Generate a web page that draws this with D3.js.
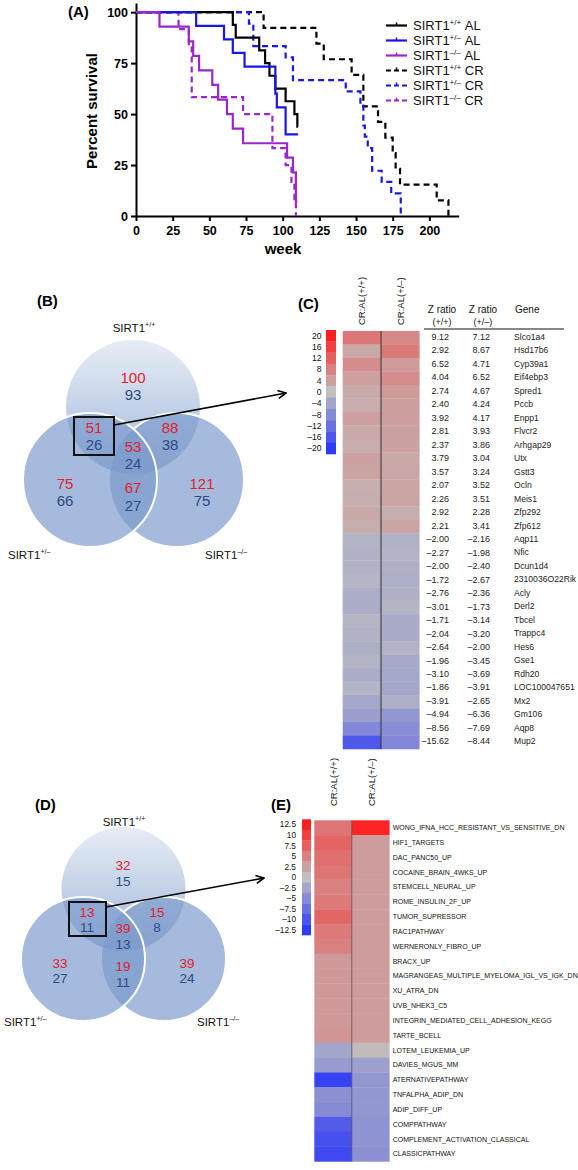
<!DOCTYPE html>
<html><head><meta charset="utf-8">
<script src="https://cdn.jsdelivr.net/npm/d3@7"></script>
<style>
body{margin:0;background:#fff}
text{font-family:"Liberation Sans",Arial,Helvetica,sans-serif}
</style>
</head><body>
<svg id="chart" width="578" height="1170"></svg>
<script>
// ---------------- DATA ----------------
const weekTicks = [0, 25, 50, 75, 100, 125, 150, 175, 200];
const survivalTicks = [0, 25, 50, 75, 100];
// step survival curves [week, percent]
const wtAL   = [[0,100],[66,93.8],[68,87.5],[84,81.3],[88,75],[91,68.8],[95,62.5],[102,56.3],[108,50],[110,43.8],[110.5,43.8]];
const hetAL  = [[0,100],[41,93.3],[60,86.7],[66,80],[74,73.3],[95,60],[96,53.3],[102,40],[110.5,40]];
const koAL   = [[0,100],[16,92.9],[36,85.7],[39,78.6],[43,71.4],[52,64.3],[56,57.1],[62,50],[66,42.9],[73,35.7],[103,28.6],[107,21.4],[109,7.1],[110,7.1]];
const wtCR   = [[0,100],[87,92.3],[123,84.6],[128,76.9],[147,69.2],[155,53.8],[165,46.2],[170,38.5],[175,30.8],[177,23.1],[180,15.4],[205,7.7],[213,0]];
const hetCR  = [[0,100],[77,94.4],[80,83.3],[102,77.8],[107,66.7],[143,61.1],[153,55.6],[155,44.4],[156,38.9],[158,33.3],[161,22.2],[167.5,16.7],[174,11.1],[180.5,0]];
const koCR   = [[0,100],[29,91.7],[36,83.3],[38,58.3],[73,50],[93,33.3],[102,25],[106,16.7],[108,8.3],[109,0]];
const legendSup    = ["+/+", "+/\u2013", "\u2013/\u2013", "+/+", "+/\u2013", "\u2013/\u2013"];
const legendSuffix = ["AL", "AL", "AL", "CR", "CR", "CR"];

// Venn counts: regions [top, topLeft, topRight, center, left, leftRight, right]
const vennBred  = [100, 51, 88, 53, 75, 67, 121];
const vennBblue = [93, 26, 38, 24, 66, 27, 75];
const vennDred  = [32, 13, 15, 39, 33, 19, 39];
const vennDblue = [15, 11, 8, 13, 27, 11, 24];

// Panel C genes
const genes = ["Slco1a4","Hsd17b6","Cyp39a1","Eif4ebp3","Spred1","Pccb","Enpp1","Flvcr2","Arhgap29","Utx","Gstt3","Ocln","Meis1","Zfp292","Zfp612","Aqp11","Nfic","Dcun1d4","2310036O22Rik","Acly","Derl2","Tbcel","Trappc4","Hes6","Gse1","Rdh20","LOC100047651","Mx2","Gm106","Aqp8","Mup2"];
const zWT  = [9.12,2.92,6.52,4.04,2.74,2.40,3.92,2.81,2.37,3.79,3.57,2.07,2.26,2.92,2.21,-2.00,-2.27,-2.00,-1.72,-2.76,-3.01,-1.71,-2.04,-2.64,-1.96,-3.10,-1.86,-3.91,-4.94,-8.56,-15.62];
const zHet = [7.12,8.67,4.71,6.52,4.67,4.24,4.17,3.93,3.86,3.04,3.24,3.52,3.51,2.28,3.41,-2.16,-1.98,-2.40,-2.67,-2.36,-1.73,-3.14,-3.20,-2.00,-3.45,-3.69,-3.91,-2.65,-6.36,-7.69,-8.44];
const colorbarC = [20,16,12,8,4,0,-4,-8,-12,-16,-20];
const heatCols = ["CR:AL(+/+)", "CR:AL(+/\u2013)"];

// Panel E pathways
const pathways = ["WONG_IFNA_HCC_RESISTANT_VS_SENSITIVE_DN","HIF1_TARGETS","DAC_PANC50_UP","COCAINE_BRAIN_4WKS_UP","STEMCELL_NEURAL_UP","ROME_INSULIN_2F_UP","TUMOR_SUPRESSOR","RAC1PATHWAY","WERNERONLY_FIBRO_UP","BRACX_UP","MAGRANGEAS_MULTIPLE_MYELOMA_IGL_VS_IGK_DN","XU_ATRA_DN","UVB_NHEK3_C5","INTEGRIN_MEDIATED_CELL_ADHESION_KEGG","TARTE_BCELL","LOTEM_LEUKEMIA_UP","DAVIES_MGUS_MM","ATERNATIVEPATHWAY","TNFALPHA_ADIP_DN","ADIP_DIFF_UP","COMPPATHWAY","COMPLEMENT_ACTIVATION_CLASSICAL","CLASSICPATHWAY"];
const pathWT  = [5.8,7.2,6.3,5.8,5.0,5.5,7.0,5.5,5.0,3.0,3.0,3.0,3.0,3.0,3.3,-2.5,-3.5,-11.8,-4.5,-5.0,-9.5,-10.5,-11.2];
const pathHet = [12.0,2.8,2.8,2.8,2.8,2.8,2.8,2.8,2.8,2.8,2.8,2.8,2.8,2.8,2.8,0.4,-3.0,-4.0,-4.0,-4.0,-4.3,-4.3,-4.5];
const colorbarE = [12.5,10,7.5,5,2.5,0,-2.5,-5,-7.5,-10,-12.5];

// ---------------- DRAW ----------------
const svg = d3.select("#chart");
const RED = "#e3202b", NAVY = "#2c4c84";

function sirtText(g, x, y, sup, suffix, fs, anchor, weight) {
  const t = g.append("text").attr("x", x).attr("y", y).attr("font-size", fs)
    .attr("text-anchor", anchor || "start").attr("fill", "#111");
  if (weight) t.attr("font-weight", weight);
  t.append("tspan").text("SIRT1");
  t.append("tspan").attr("font-size", fs * 0.62).attr("dy", -fs * 0.4).text(sup);
  if (suffix) t.append("tspan").attr("dy", fs * 0.4).text("\u00a0" + suffix);
  return t;
}

// ===== Panel A =====
const x = d3.scaleLinear().domain([0, 220]).range([136, 458.7]);
const y = d3.scaleLinear().domain([0, 104.5]).range([216, 3]);
const gA = svg.append("g");
gA.append("text").attr("x", 68).attr("y", 17).attr("font-size", 15).attr("font-weight", "bold").text("(A)");

const xAx = gA.append("g").attr("transform", "translate(0,216)")
  .call(d3.axisBottom(x).tickValues(weekTicks).tickSize(5).tickPadding(5).tickSizeOuter(0));
const yAx = gA.append("g").attr("transform", "translate(136,0)")
  .call(d3.axisLeft(y).tickValues(survivalTicks).tickSize(5).tickPadding(3).tickSizeOuter(0));
[xAx, yAx].forEach(a => {
  a.select(".domain").attr("stroke", "#000").attr("stroke-width", 2);
  a.selectAll(".tick line").attr("stroke", "#000").attr("stroke-width", 2);
  a.selectAll(".tick text").attr("font-size", 12.5).attr("font-weight", "bold").attr("fill", "#000")
    .attr("font-family", "'Liberation Sans',Arial,sans-serif");
});
gA.append("text").attr("x", 283).attr("y", 254).attr("text-anchor", "middle")
  .attr("font-size", 15).attr("font-weight", "bold").text("week");
gA.append("text").attr("transform", "translate(97,111) rotate(-90)").attr("text-anchor", "middle")
  .attr("font-size", 15).attr("font-weight", "bold").text("Percent survival");

const survSeries = [
  {d: wtCR, c: "#000", dash: "6,4"},
  {d: hetCR, c: "#1717e6", dash: "6,4"},
  {d: koCR, c: "#9c25d0", dash: "6,4"},
  {d: wtAL, c: "#000", dash: null},
  {d: hetAL, c: "#1717e6", dash: null},
  {d: koAL, c: "#9c25d0", dash: null}
];
const line = d3.line().x(d => x(d[0])).y(d => y(d[1])).curve(d3.curveStepAfter);
survSeries.forEach(s => {
  gA.append("path").attr("d", line(s.d)).attr("fill", "none").attr("stroke", s.c)
    .attr("stroke-width", 2.2).attr("stroke-dasharray", s.dash);
});

// legend
const legColors = ["#000", "#1717e6", "#9c25d0", "#000", "#1717e6", "#9c25d0"];
legendSup.forEach((sup, i) => {
  const ly = 25.5 + i * 15;
  gA.append("line").attr("x1", 386).attr("x2", 407).attr("y1", ly).attr("y2", ly)
    .attr("stroke", legColors[i]).attr("stroke-width", 2.2).attr("stroke-dasharray", i > 2 ? "5,3" : null);
  gA.append("line").attr("x1", 396.5).attr("x2", 396.5).attr("y1", ly - 3).attr("y2", ly)
    .attr("stroke", legColors[i]).attr("stroke-width", 1.5);
  sirtText(gA, 413, ly + 4.6, sup, legendSuffix[i], 13, "start");
});

// ===== Venn diagrams =====
const defs = svg.append("defs");
defs.append("marker").attr("id", "arr").attr("viewBox", "0 0 10 10").attr("refX", 9).attr("refY", 5)
  .attr("markerWidth", 10).attr("markerHeight", 10).attr("markerUnits", "userSpaceOnUse").attr("orient", "auto")
  .append("path").attr("d", "M1,1 L9,5 L1,9").attr("fill", "none").attr("stroke", "#000").attr("stroke-width", 1.6);

function venn(id, c, red, blue, pos, fs, box, arrow, labels) {
  const g = svg.append("g");
  const grad = defs.append("linearGradient").attr("id", "grad" + id).attr("x1", 0).attr("y1", 0).attr("x2", 0).attr("y2", 1);
  grad.append("stop").attr("offset", "0").attr("stop-color", "#7b9acb").attr("stop-opacity", 0.18);
  grad.append("stop").attr("offset", "1").attr("stop-color", "#7b9acb").attr("stop-opacity", 0.72);
  const mask = defs.append("mask").attr("id", "mask" + id);
  mask.append("rect").attr("x", 0).attr("y", 0).attr("width", 578).attr("height", 1170).attr("fill", "#fff");
  mask.append("circle").attr("cx", c.left[0]).attr("cy", c.left[1]).attr("r", c.r).attr("fill", "#000");

  g.append("circle").attr("cx", c.top[0]).attr("cy", c.top[1]).attr("r", c.r).attr("fill", "url(#grad" + id + ")");
  g.append("circle").attr("cx", c.right[0]).attr("cy", c.right[1]).attr("r", c.r).attr("fill", "#7b9acb").attr("fill-opacity", 0.68);
  g.append("circle").attr("cx", c.left[0]).attr("cy", c.left[1]).attr("r", c.r).attr("fill", "#7b9acb").attr("fill-opacity", 0.68);
  g.append("circle").attr("cx", c.right[0]).attr("cy", c.right[1]).attr("r", c.r).attr("fill", "none")
    .attr("stroke", "#fff").attr("stroke-width", 2).attr("mask", "url(#mask" + id + ")");
  g.append("circle").attr("cx", c.left[0]).attr("cy", c.left[1]).attr("r", c.r).attr("fill", "none")
    .attr("stroke", "#fff").attr("stroke-width", 2);

  red.forEach((v, i) => {
    g.append("text").attr("x", pos[i][0]).attr("y", pos[i][1]).attr("dy", "0.36em").attr("text-anchor", "middle")
      .attr("font-size", fs).attr("fill", RED).text(v);
    g.append("text").attr("x", pos[i][0]).attr("y", pos[i][2]).attr("dy", "0.36em").attr("text-anchor", "middle")
      .attr("font-size", fs).attr("fill", NAVY).text(blue[i]);
  });
  g.append("rect").attr("x", box[0]).attr("y", box[1]).attr("width", box[2] - box[0]).attr("height", box[3] - box[1])
    .attr("fill", "none").attr("stroke", "#111").attr("stroke-width", 2);
  g.append("line").attr("x1", arrow[0]).attr("y1", arrow[1]).attr("x2", arrow[2]).attr("y2", arrow[3])
    .attr("stroke", "#000").attr("stroke-width", 1.6).attr("marker-end", "url(#arr)");
  sirtText(g, labels.top[0], labels.top[1], "+/+", null, 11.5, "middle");
  sirtText(g, labels.left[0], labels.left[1], "+/\u2013", null, 11.5, "start");
  sirtText(g, labels.right[0], labels.right[1], "\u2013/\u2013", null, 11.5, "start");
  return g;
}

svg.append("text").attr("x", 37).attr("y", 306).attr("font-size", 15).attr("font-weight", "bold").text("(B)");
venn("B", {top: [133, 407], left: [90, 480], right: [177, 480], r: 67}, vennBred, vennBblue,
  [[133, 378, 395], [94, 428, 445], [170, 428, 445], [133, 447, 464], [65, 484, 501], [133, 488, 506], [202, 484, 501]],
  15, [74, 417, 114, 455], [114, 425, 286, 393],
  {top: [134, 332], left: [8, 559], right: [205, 559]});

svg.append("text").attr("x", 35).attr("y", 810).attr("font-size", 15).attr("font-weight", "bold").text("(D)");
venn("D", {top: [123.5, 889], left: [83, 959], right: [164, 959], r: 62}, vennDred, vennDblue,
  [[123, 865, 881], [87, 912, 927], [157, 912, 927], [123, 928, 944], [60, 963, 978], [123, 966, 982], [187, 963, 978]],
  13.5, [69, 902, 106, 936], [106, 907, 264, 878],
  {top: [124, 826], left: [4, 1026], right: [197, 1026]});

// ===== Heatmaps =====
function heatColor(max) {
  return d3.scaleLinear().domain([-max, 0, max]).range(["#2f3cf5", "#c0c0c0", "#ff1f1f"]).clamp(true);
}

// Panel C
const gC = svg.append("g");
gC.append("text").attr("x", 298).attr("y", 309).attr("font-size", 15).attr("font-weight", "bold").text("(C)");
const colC = heatColor(20);
const cbC = d3.scaleBand().domain(colorbarC).range([330, 454]);
gC.selectAll("rect.cb").data(colorbarC).join("rect").attr("x", 326).attr("width", 10)
  .attr("y", d => cbC(d)).attr("height", cbC.bandwidth() + 0.3).attr("fill", d => colC(d));
gC.selectAll("text.cb").data(colorbarC).join("text").attr("x", 321.5).attr("y", d => cbC(d) + cbC.bandwidth() / 2)
  .attr("dy", "0.35em").attr("text-anchor", "end").attr("font-size", 8.6).attr("fill", "#111")
  .text(d => d < 0 ? "\u2013" + Math.abs(d) : d);

const rowC = d3.scaleBand().domain(d3.range(genes.length)).range([331, 749]);
const colXC = d3.scaleBand().domain([0, 1]).range([342.7, 419.3]);
[zWT, zHet].forEach((vals, j) => {
  gC.selectAll(null).data(vals).join("rect").attr("x", colXC(j)).attr("width", colXC.bandwidth() + 0.3)
    .attr("y", (d, i) => rowC(i)).attr("height", rowC.bandwidth() + 0.3).attr("fill", d => colC(d));
  gC.append("text").attr("transform", `translate(${colXC(j) + colXC.bandwidth() / 2 + 3.5},325) rotate(-90)`)
    .attr("font-size", 9.5).attr("fill", "#222").text(heatCols[j]);
});
gC.append("line").attr("x1", colXC(1)).attr("x2", colXC(1)).attr("y1", 331).attr("y2", 749).attr("stroke", "#333").attr("stroke-width", 1);

// table
const fmt = v => (v < 0 ? "\u2013" : "") + Math.abs(v).toFixed(2);
[["Z ratio", "(+/+)", 442], ["Z ratio", "(+/\u2013)", 483]].forEach(h => {
  gC.append("text").attr("x", h[2]).attr("y", 313).attr("text-anchor", "middle").attr("font-size", 10).attr("fill", "#111").text(h[0]);
  gC.append("text").attr("x", h[2]).attr("y", 325).attr("text-anchor", "middle").attr("font-size", 9).attr("fill", "#111").text(h[1]);
});
gC.append("text").attr("x", 515).attr("y", 313).attr("font-size", 10).attr("fill", "#111").text("Gene");
gC.append("line").attr("x1", 424).attr("x2", 564).attr("y1", 329).attr("y2", 329).attr("stroke", "#111").attr("stroke-width", 1);
genes.forEach((g, i) => {
  const cy = rowC(i) + rowC.bandwidth() / 2 - 1;
  gC.append("text").attr("x", 449).attr("y", cy).attr("dy", "0.35em").attr("text-anchor", "end").attr("font-size", 9).attr("fill", "#222").text(fmt(zWT[i]));
  gC.append("text").attr("x", 490).attr("y", cy).attr("dy", "0.35em").attr("text-anchor", "end").attr("font-size", 9).attr("fill", "#222").text(fmt(zHet[i]));
  gC.append("text").attr("x", 514).attr("y", cy).attr("dy", "0.35em").attr("font-size", 8.6).attr("fill", "#222").text(g);
});

// Panel E
const gE = svg.append("g");
gE.append("text").attr("x", 271).attr("y", 810).attr("font-size", 15).attr("font-weight", "bold").text("(E)");
const colE = heatColor(12.5);
const cbE = d3.scaleBand().domain(colorbarE).range([819.3, 935]);
gE.selectAll("rect.cb").data(colorbarE).join("rect").attr("x", 302).attr("width", 9)
  .attr("y", d => cbE(d)).attr("height", cbE.bandwidth() + 0.3).attr("fill", d => colE(d));
gE.selectAll("text.cb").data(colorbarE).join("text").attr("x", 296).attr("y", d => cbE(d) + cbE.bandwidth() / 2)
  .attr("dy", "0.35em").attr("text-anchor", "end").attr("font-size", 8.3).attr("fill", "#111")
  .text(d => d < 0 ? "\u2013" + Math.abs(d) : d);

const rowE = d3.scaleBand().domain(d3.range(pathways.length)).range([820.3, 1161.4]);
const colXE = d3.scaleBand().domain([0, 1]).range([314.3, 389.3]);
[pathWT, pathHet].forEach((vals, j) => {
  gE.selectAll(null).data(vals).join("rect").attr("x", colXE(j)).attr("width", colXE.bandwidth() + 0.3)
    .attr("y", (d, i) => rowE(i)).attr("height", rowE.bandwidth() + 0.3).attr("fill", d => colE(d));
  gE.append("text").attr("transform", `translate(${colXE(j) + colXE.bandwidth() / 2 + 4},806) rotate(-90)`)
    .attr("font-size", 9.5).attr("fill", "#222").text(heatCols[j]);
});
gE.append("line").attr("x1", colXE(1)).attr("x2", colXE(1)).attr("y1", 820.3).attr("y2", 1161.4).attr("stroke", "#555").attr("stroke-width", 0.8);
pathways.forEach((p, i) => {
  gE.append("text").attr("x", 392.7).attr("y", rowE(i) + rowE.bandwidth() / 2).attr("dy", "0.35em")
    .attr("font-size", 7).attr("fill", "#111").text(p);
});
</script>
</body></html>
